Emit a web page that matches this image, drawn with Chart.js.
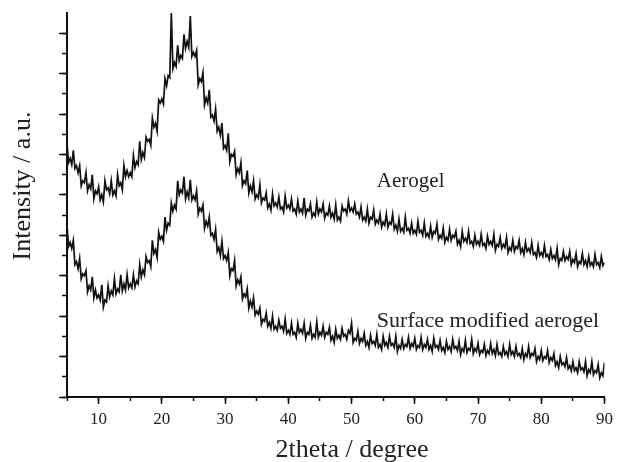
<!DOCTYPE html>
<html>
<head>
<meta charset="utf-8">
<title>XRD - aerogel</title>
<script src="https://cdn.jsdelivr.net/npm/chart.js@4/dist/chart.umd.min.js"></script>
<style>
    html, body { margin: 0; padding: 0; background: #fff; }
</style>
</head>
<body>
<canvas id="xrd-chart" width="618" height="462"></canvas>
<script>
// 2theta (degree), one reading every quarter degree
const twoTheta = [
    5, 5.25, 5.5, 5.75, 6, 6.25, 6.5, 6.75, 7, 7.25, 7.5, 7.75, 8, 8.25, 8.5, 8.75, 9, 9.25, 9.5, 9.75,
    10, 10.25, 10.5, 10.75, 11, 11.25, 11.5, 11.75, 12, 12.25, 12.5, 12.75, 13, 13.25, 13.5, 13.75, 14, 14.25, 14.5, 14.75,
    15, 15.25, 15.5, 15.75, 16, 16.25, 16.5, 16.75, 17, 17.25, 17.5, 17.75, 18, 18.25, 18.5, 18.75, 19, 19.25, 19.5, 19.75,
    20, 20.25, 20.5, 20.75, 21, 21.25, 21.5, 21.75, 22, 22.25, 22.5, 22.75, 23, 23.25, 23.5, 23.75, 24, 24.25, 24.5, 24.75,
    25, 25.25, 25.5, 25.75, 26, 26.25, 26.5, 26.75, 27, 27.25, 27.5, 27.75, 28, 28.25, 28.5, 28.75, 29, 29.25, 29.5, 29.75,
    30, 30.25, 30.5, 30.75, 31, 31.25, 31.5, 31.75, 32, 32.25, 32.5, 32.75, 33, 33.25, 33.5, 33.75, 34, 34.25, 34.5, 34.75,
    35, 35.25, 35.5, 35.75, 36, 36.25, 36.5, 36.75, 37, 37.25, 37.5, 37.75, 38, 38.25, 38.5, 38.75, 39, 39.25, 39.5, 39.75,
    40, 40.25, 40.5, 40.75, 41, 41.25, 41.5, 41.75, 42, 42.25, 42.5, 42.75, 43, 43.25, 43.5, 43.75, 44, 44.25, 44.5, 44.75,
    45, 45.25, 45.5, 45.75, 46, 46.25, 46.5, 46.75, 47, 47.25, 47.5, 47.75, 48, 48.25, 48.5, 48.75, 49, 49.25, 49.5, 49.75,
    50, 50.25, 50.5, 50.75, 51, 51.25, 51.5, 51.75, 52, 52.25, 52.5, 52.75, 53, 53.25, 53.5, 53.75, 54, 54.25, 54.5, 54.75,
    55, 55.25, 55.5, 55.75, 56, 56.25, 56.5, 56.75, 57, 57.25, 57.5, 57.75, 58, 58.25, 58.5, 58.75, 59, 59.25, 59.5, 59.75,
    60, 60.25, 60.5, 60.75, 61, 61.25, 61.5, 61.75, 62, 62.25, 62.5, 62.75, 63, 63.25, 63.5, 63.75, 64, 64.25, 64.5, 64.75,
    65, 65.25, 65.5, 65.75, 66, 66.25, 66.5, 66.75, 67, 67.25, 67.5, 67.75, 68, 68.25, 68.5, 68.75, 69, 69.25, 69.5, 69.75,
    70, 70.25, 70.5, 70.75, 71, 71.25, 71.5, 71.75, 72, 72.25, 72.5, 72.75, 73, 73.25, 73.5, 73.75, 74, 74.25, 74.5, 74.75,
    75, 75.25, 75.5, 75.75, 76, 76.25, 76.5, 76.75, 77, 77.25, 77.5, 77.75, 78, 78.25, 78.5, 78.75, 79, 79.25, 79.5, 79.75,
    80, 80.25, 80.5, 80.75, 81, 81.25, 81.5, 81.75, 82, 82.25, 82.5, 82.75, 83, 83.25, 83.5, 83.75, 84, 84.25, 84.5, 84.75,
    85, 85.25, 85.5, 85.75, 86, 86.25, 86.5, 86.75, 87, 87.25, 87.5, 87.75, 88, 88.25, 88.5, 88.75, 89, 89.25, 89.5, 89.75,
    90
];

// Intensity (a.u.) (noisy trace)
const aerogel = [
    251, 232, 236, 230, 244, 226, 229, 222, 229, 209, 214, 212, 222, 204, 210, 206, 220, 196, 204, 201,
    208, 195, 200, 193, 214, 205, 207, 201, 214, 200, 204, 199, 220, 209, 212, 205, 229, 218, 224, 218,
    222, 218, 239, 227, 233, 230, 253, 235, 242, 237, 257, 253, 255, 249, 276, 267, 271, 263, 294, 291,
    295, 290, 315, 308, 318, 316, 380, 325, 331, 327, 348, 333, 338, 335, 359, 345, 352, 346, 377, 337,
    341, 337, 343, 309, 315, 312, 321, 289, 296, 291, 304, 277, 279, 273, 285, 263, 267, 259, 271, 246,
    249, 244, 261, 233, 240, 238, 243, 220, 226, 222, 232, 209, 214, 211, 224, 202, 209, 203, 214, 196,
    200, 197, 210, 192, 197, 195, 202, 187, 191, 185, 201, 189, 192, 188, 198, 186, 188, 183, 199, 187,
    190, 186, 196, 184, 186, 181, 194, 183, 186, 182, 197, 180, 186, 184, 191, 178, 182, 179, 193, 181,
    186, 183, 191, 177, 182, 180, 189, 178, 182, 176, 190, 175, 178, 174, 189, 184, 186, 181, 194, 184,
    187, 183, 191, 181, 183, 178, 188, 175, 178, 174, 186, 172, 178, 176, 185, 171, 175, 172, 181, 168,
    173, 170, 181, 168, 173, 171, 181, 166, 170, 164, 176, 164, 167, 163, 178, 165, 167, 162, 172, 162,
    165, 161, 174, 163, 165, 160, 172, 159, 162, 158, 169, 158, 164, 162, 171, 156, 160, 157, 167, 153,
    158, 155, 166, 155, 160, 158, 164, 151, 155, 149, 164, 154, 157, 153, 164, 152, 154, 149, 160, 151,
    154, 150, 161, 150, 152, 147, 159, 151, 154, 150, 161, 145, 151, 149, 158, 147, 151, 148, 158, 143,
    148, 145, 155, 144, 149, 147, 155, 143, 147, 141, 153, 144, 147, 143, 153, 141, 143, 138, 150, 140,
    143, 139, 150, 139, 141, 136, 146, 137, 140, 136, 147, 131, 137, 135, 144, 135, 139, 136, 144, 131,
    136, 133, 142, 129, 134, 132, 142, 131, 135, 129, 139, 130, 133, 129, 141, 131, 133, 128, 139, 130,
    133
];

const modifiedAerogel = [
    170, 149, 153, 147, 155, 131, 134, 127, 137, 117, 122, 120, 125, 104, 110, 106, 119, 98, 106, 98,
    101, 96, 111, 89, 96, 94, 110, 99, 105, 101, 117, 102, 107, 104, 121, 105, 112, 106, 121, 108,
    112, 108, 121, 109, 115, 112, 131, 119, 126, 121, 139, 133, 135, 129, 155, 142, 146, 138, 163, 156,
    159, 154, 178, 165, 172, 170, 192, 184, 190, 186, 214, 200, 205, 202, 218, 196, 203, 197, 215, 195,
    199, 195, 204, 181, 187, 184, 190, 167, 174, 169, 178, 160, 162, 156, 166, 144, 148, 140, 154, 137,
    140, 135, 143, 120, 127, 125, 135, 110, 116, 112, 119, 97, 102, 99, 107, 88, 95, 89, 98, 81,
    85, 82, 88, 72, 77, 75, 83, 70, 74, 68, 80, 67, 70, 66, 76, 68, 70, 65, 77, 63,
    66, 62, 73, 62, 64, 59, 73, 64, 67, 63, 73, 58, 64, 62, 71, 58, 62, 59, 74, 59,
    64, 61, 70, 59, 64, 62, 69, 56, 60, 54, 67, 58, 61, 57, 68, 60, 62, 57, 66, 63,
    73, 54, 58, 56, 65, 53, 58, 55, 63, 51, 55, 49, 61, 53, 55, 51, 62, 49, 52, 47,
    60, 51, 54, 49, 60, 51, 53, 49, 60, 45, 51, 48, 57, 48, 52, 50, 59, 48, 53, 50,
    58, 47, 51, 49, 59, 47, 52, 49, 57, 47, 51, 45, 58, 49, 51, 47, 56, 46, 49, 44,
    55, 47, 50, 45, 57, 48, 50, 46, 55, 42, 48, 45, 56, 44, 48, 46, 57, 43, 48, 45,
    53, 42, 46, 44, 52, 41, 46, 43, 53, 43, 47, 41, 52, 42, 44, 40, 50, 42, 45, 40,
    52, 42, 45, 40, 50, 41, 43, 39, 48, 37, 43, 40, 50, 39, 43, 41, 48, 35, 40, 37,
    46, 36, 40, 38, 46, 34, 39, 36, 43, 31, 35, 29, 40, 32, 34, 30, 39, 28, 31, 26,
    35, 26, 29, 24, 35, 27, 29, 25, 35, 21, 27, 24, 35, 22, 26, 24, 32, 19, 24, 21,
    34
];

const seriesNames = ['Aerogel', 'Surface modified aerogel'];
const xTitle = '2theta / degree';
const yTitle = 'Intensity / a.u.';

const ink = '#111111';
const serif = '"Liberation Serif", "Times New Roman", serif';

function toPoints(values) {
    return twoTheta.map((t, i) => ({ x: t, y: values[i] }));
}

// labels next to the curves and the two axis titles
const textPlugin = {
    id: 'xrdText',
    afterDraw(chart) {
        const { ctx, scales: { x, y } } = chart;
        ctx.save();
        ctx.fillStyle = '#222';
        ctx.textBaseline = 'alphabetic';
        ctx.textAlign = 'left';
        ctx.font = '21px ' + serif;
        ctx.fillText(seriesNames[0], x.getPixelForValue(54), y.getPixelForValue(208));
        ctx.font = '22px ' + serif;
        ctx.fillText(seriesNames[1], x.getPixelForValue(54), y.getPixelForValue(69));

        ctx.font = '26px ' + serif;
        ctx.textAlign = 'center';
        ctx.fillText(xTitle, 352, 457);
        ctx.translate(30, 186);
        ctx.rotate(-Math.PI / 2);
        ctx.fillText(yTitle, 0, 0);
        ctx.restore();
    }
};

const ctx = document.getElementById('xrd-chart').getContext('2d');
new Chart(ctx, {
    type: 'line',
    data: {
        datasets: [
            {
                label: seriesNames[0],
                data: toPoints(aerogel),
                borderColor: ink,
                borderWidth: 1.7,
                pointRadius: 0,
                tension: 0,
                fill: false
            },
            {
                label: seriesNames[1],
                data: toPoints(modifiedAerogel),
                borderColor: ink,
                borderWidth: 1.7,
                pointRadius: 0,
                tension: 0,
                fill: false
            }
        ]
    },
    options: {
        responsive: false,
        animation: false,
        layout: { padding: { left: 0, right: 11, top: 13, bottom: 0 } },
        plugins: {
            legend: { display: false },
            tooltip: { enabled: false }
        },
        scales: {
            x: {
                type: 'linear',
                position: 'bottom',
                min: 5,
                max: 90,
                ticks: {
                    stepSize: 10,
                    includeBounds: false,
                    maxRotation: 0,
                    padding: 5,
                    color: '#222',
                    font: { family: serif, size: 17 }
                },
                grid: { drawOnChartArea: false, tickLength: 7, tickWidth: 1.5, tickColor: ink },
                border: { color: ink, width: 2 },
                afterFit: scale => { scale.height = 65; }
            },
            xMinor: {
                type: 'linear',
                position: { y: 0 },
                min: 5,
                max: 90,
                ticks: { stepSize: 5, display: false },
                grid: { drawOnChartArea: false, tickLength: 4, tickWidth: 1.5, tickColor: ink },
                border: { display: false }
            },
            y: {
                type: 'linear',
                position: 'left',
                min: 0,
                max: 380,
                ticks: { stepSize: 20, display: false },
                grid: {
                    drawOnChartArea: false,
                    tickLength: 5,
                    tickWidth: 1.5,
                    tickColor: c => (c.tick && c.tick.value === 380 ? 'rgba(0,0,0,0)' : ink)
                },
                border: { color: ink, width: 2 },
                afterFit: scale => { scale.width = 67; }
            },
            yMajor: {
                type: 'linear',
                position: { x: 5 },
                min: 0,
                max: 380,
                ticks: { stepSize: 40, includeBounds: false, display: false },
                grid: { drawOnChartArea: false, tickLength: 8, tickWidth: 1.5, tickColor: ink },
                border: { display: false }
            }
        }
    },
    plugins: [textPlugin]
});
</script>
</body>
</html>
